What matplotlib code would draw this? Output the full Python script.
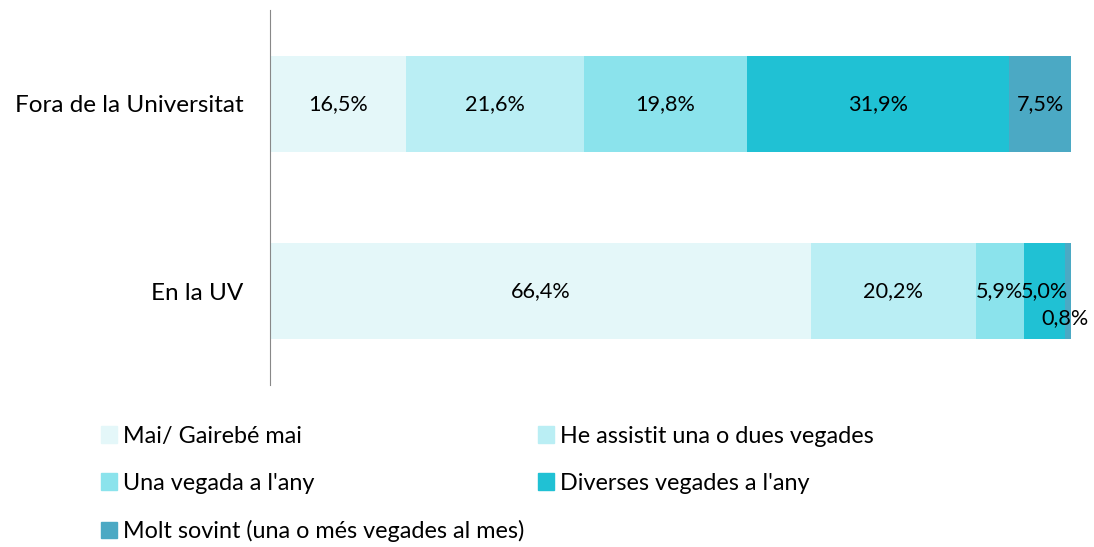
import numpy as np
import matplotlib.pyplot as plt
from matplotlib.patches import Patch

plt.rcParams['font.family'] = ['Lato', 'DejaVu Sans']

# Daten
categories = ['Fora de la Universitat', 'En la UV']
series = ['Mai/ Gairebé mai', 'He assistit una o dues vegades', "Una vegada a l'any",
          "Diverses vegades a l'any", 'Molt sovint (una o més vegades al mes)']
fora = [16.5, 21.6, 19.8, 31.9, 7.5]
uv = [66.4, 20.2, 5.9, 5.0, 0.8]
colors = ['#E4F7F9', '#BAEEF4', '#8BE3EC', '#20C1D4', '#4BA9C4']

fs = 17.5

fig = plt.figure(figsize=(10.94, 5.47), dpi=100)
ax = fig.add_axes([0.2468, 0.2962, 0.7322, 0.6856])

values = np.array([fora, uv])
# 100% gestapelt: jede Zeile auf 100 normieren
shares = values / values.sum(axis=1, keepdims=True) * 100
ypos = [0, 1]
left = np.zeros(2)
for i in range(len(series)):
    ax.barh(ypos, shares[:, i], left=left, height=0.51, color=colors[i], label=series[i])
    for j in range(2):
        v = values[j, i]
        x = left[j] + shares[j, i] / 2
        dx, dy = 0, 0
        if v < 1:
            dx, dy = -4.5, -19.5
            x = left[j] + shares[j, i]
        ax.annotate(f'{v:.1f}%'.replace('.', ','), (x, ypos[j]), xytext=(dx, dy),
                    textcoords='offset points', ha='center', va='center', fontsize=15.6)
    left += shares[:, i]

ax.set_xlim(0, 100)
ax.set_ylim(1.5, -0.5)
ax.set_yticks(ypos)
ax.set_yticklabels(categories, fontsize=fs)
ax.tick_params(axis='y', length=0, pad=19)
ax.set_xticks([])
for s in ['top', 'right', 'bottom']:
    ax.spines[s].set_visible(False)
ax.spines['left'].set_color('#888888')

handles = [Patch(color=c) for c in colors]
order = [0, 2, 4, 1, 3]
fig.legend([handles[k] for k in order], [series[k] for k in order], ncol=2,
           loc='upper left', bbox_to_anchor=(0.076, 0.254), frameon=False,
           fontsize=16.8, handlelength=0.7, handleheight=0.7, handletextpad=0.25,
           columnspacing=0.6, labelspacing=1.12, borderpad=0.25)

fig.savefig('out.png', dpi=100)
